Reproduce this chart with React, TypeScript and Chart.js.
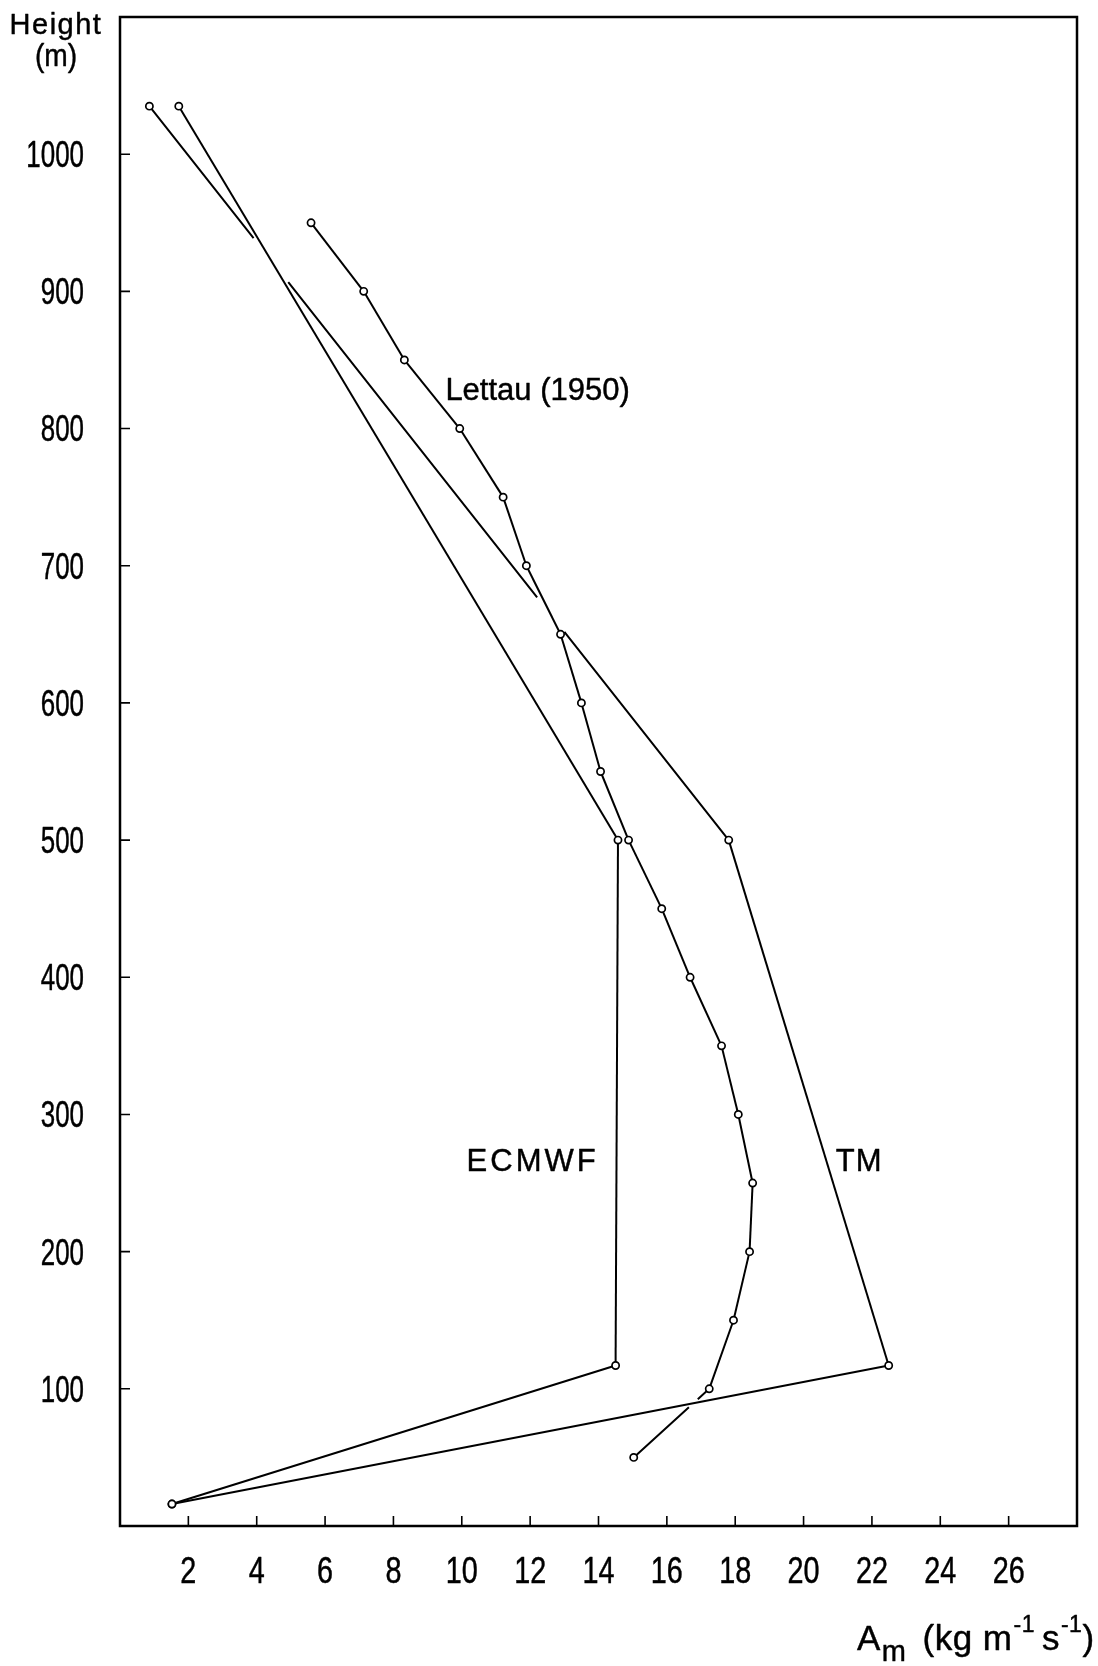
import { useEffect, useRef } from 'react';
import { Chart, registerables } from 'chart.js';

Chart.register(...registerables);

// Lettau (1950) profile: heights (m) and A_m (kg m^-1 s^-1)
const LETTAU_HEIGHTS = [950, 900, 850, 800, 750, 700, 650, 600, 550, 500, 450, 400, 350, 300, 250, 200, 150, 100, 50];
const LETTAU_AM = [5.59, 7.13, 8.32, 9.94, 11.21, 11.89, 12.89, 13.5, 14.06, 14.88, 15.85, 16.68, 17.6, 18.09, 18.51, 18.42, 17.95, 17.24, 15.03];

// Model profiles on their levels
const MODEL_HEIGHTS = [1035, 500, 117, 16];
const TM_AM = [0.86, 17.81, 22.49, 1.52];
const ECMWF_AM = [1.72, 14.57, 14.5, 1.52];

const X_TICKS = [2, 4, 6, 8, 10, 12, 14, 16, 18, 20, 22, 24, 26];
const Y_TICKS = [100, 200, 300, 400, 500, 600, 700, 800, 900, 1000];

const SERIES_NAMES = ['Lettau (1950)', 'TM', 'ECMWF'];

// Curve labels, anchored in data units (left edge, baseline)
const CURVE_LABELS = [
  { text: 'Lettau (1950)', x: 9.52, y: 821, spacing: 0 },
  { text: 'ECMWF', x: 10.14, y: 259, spacing: 3 },
  { text: 'TM', x: 20.94, y: 259, spacing: 1 },
];

const SANS = '"Liberation Sans", Arial, sans-serif';

type Pt = { x: number; y: number };

function crossAt(a: Pt, b: Pt, c: Pt, d: Pt): number | null {
  const rx = b.x - a.x, ry = b.y - a.y;
  const sx = d.x - c.x, sy = d.y - c.y;
  const den = rx * sy - ry * sx;
  if (Math.abs(den) < 1e-9) return null;
  const t = ((c.x - a.x) * sy - (c.y - a.y) * sx) / den;
  const u = ((c.x - a.x) * ry - (c.y - a.y) * rx) / den;
  if (t <= 0.001 || t >= 0.999 || u <= 0.001 || u >= 0.999) return null;
  return t;
}

// Text with an optional horizontal squeeze and a light outline for a heavier print look
function drawText(
  ctx: CanvasRenderingContext2D,
  text: string,
  x: number,
  y: number,
  size: number,
  opts: { sx?: number; align?: 'left' | 'center' | 'right'; spacing?: number } = {}
): number {
  const sx = opts.sx ?? 1;
  ctx.save();
  ctx.font = `${size}px ${SANS}`;
  (ctx as any).letterSpacing = `${opts.spacing ?? 0}px`;
  ctx.textAlign = 'left';
  ctx.textBaseline = 'alphabetic';
  const w = ctx.measureText(text).width * sx;
  const x0 = opts.align === 'center' ? x - w / 2 : opts.align === 'right' ? x - w : x;
  ctx.translate(x0, y);
  ctx.scale(sx, 1);
  ctx.fillStyle = '#000';
  ctx.strokeStyle = '#000';
  ctx.lineWidth = 0.45;
  ctx.lineJoin = 'round';
  ctx.fillText(text, 0, 0);
  ctx.strokeText(text, 0, 0);
  ctx.restore();
  return w;
}

// Draws each series as a polyline that is interrupted where it passes under another one
const brokenLines = {
  id: 'brokenLines',
  beforeDatasetsDraw(chart: any) {
    const ctx: CanvasRenderingContext2D = chart.ctx;
    const yScale = chart.scales.y;
    const polys: Pt[][] = chart.data.datasets.map((_: any, i: number) =>
      chart.getDatasetMeta(i).data.map((p: any) => ({ x: p.x, y: p.y }))
    );
    chart.data.datasets.forEach((ds: any, i: number) => {
      const pts = polys[i];
      const breaks = ds.breaks || [];
      ctx.save();
      ctx.strokeStyle = '#000';
      ctx.lineWidth = 2;
      ctx.lineCap = 'butt';
      for (let s = 0; s < pts.length - 1; s++) {
        const a = pts[s], b = pts[s + 1];
        const len = Math.hypot(b.x - a.x, b.y - a.y);
        const cuts: [number, number][] = [];
        for (const br of breaks) {
          const other = polys[SERIES_NAMES.indexOf(br.over)];
          for (let k = 0; k < other.length - 1; k++) {
            const t = crossAt(a, b, other[k], other[k + 1]);
            if (t == null) continue;
            const h = yScale.getValueForPixel(a.y + t * (b.y - a.y));
            if (br.above != null && h < br.above) continue;
            if (br.below != null && h > br.below) continue;
            cuts.push([t * len - br.half, t * len + br.half]);
          }
        }
        cuts.sort((p, q) => p[0] - q[0]);
        let start = 0;
        const pieces: [number, number][] = [];
        for (const [c0, c1] of cuts) {
          if (c0 > start) pieces.push([start, c0]);
          start = Math.max(start, c1);
        }
        if (start < len) pieces.push([start, len]);
        const ux = (b.x - a.x) / len, uy = (b.y - a.y) / len;
        ctx.beginPath();
        for (const [d0, d1] of pieces) {
          ctx.moveTo(a.x + ux * d0, a.y + uy * d0);
          ctx.lineTo(a.x + ux * d1, a.y + uy * d1);
        }
        ctx.stroke();
      }
      ctx.restore();
    });
  },
};

// Frame, inward tick marks, tick labels and all free text
const decorations = {
  id: 'decorations',
  afterDraw(chart: any) {
    const ctx: CanvasRenderingContext2D = chart.ctx;
    const { left, right, top, bottom } = chart.chartArea;
    const xs = chart.scales.x, ys = chart.scales.y;
    ctx.save();
    ctx.strokeStyle = '#000';
    ctx.lineWidth = 2.5;
    ctx.strokeRect(left, top, right - left, bottom - top);

    ctx.lineWidth = 1.6;
    ctx.beginPath();
    for (const v of Y_TICKS) {
      const py = ys.getPixelForValue(v);
      ctx.moveTo(left, py);
      ctx.lineTo(left + 10, py);
    }
    for (const v of X_TICKS) {
      const px = xs.getPixelForValue(v);
      ctx.moveTo(px, bottom);
      ctx.lineTo(px, bottom - 10);
    }
    ctx.stroke();
    ctx.restore();

    // tick labels
    for (const v of Y_TICKS) {
      drawText(ctx, String(v), left - 36, ys.getPixelForValue(v) + 12.9, 36, { sx: 0.72, align: 'right' });
    }
    for (const v of X_TICKS) {
      drawText(ctx, String(v), xs.getPixelForValue(v), bottom + 57, 36, { sx: 0.8, align: 'center' });
    }

    // curve labels
    for (const l of CURVE_LABELS) {
      drawText(ctx, l.text, xs.getPixelForValue(l.x), ys.getPixelForValue(l.y), 31, { spacing: l.spacing });
    }

    // y-axis title
    drawText(ctx, 'Height', 56, 34, 29, { align: 'center', spacing: 1.5 });
    drawText(ctx, '(m)', 56, 66, 32, { align: 'center', sx: 0.88 });

    // x-axis title: A_m (kg m^-1 s^-1)
    const base = 1650;
    const parts: { t: string; size: number; dy: number; gap: number }[] = [
      { t: 'A', size: 35, dy: 0, gap: 1 },
      { t: 'm', size: 29, dy: 11, gap: 16 },
      { t: '(kg m', size: 35, dy: 0, gap: 1 },
      { t: '-1', size: 23, dy: -18, gap: 7 },
      { t: 's', size: 35, dy: 0, gap: 1 },
      { t: '-1', size: 23, dy: -18, gap: 0 },
      { t: ')', size: 35, dy: 0, gap: 0 },
    ];
    let cx = 857;
    for (const p of parts) {
      cx += drawText(ctx, p.t, cx, base + p.dy, p.size, { spacing: 0.5 }) + p.gap;
    }
  },
};

export default function App() {
  const canvasRef = useRef<HTMLCanvasElement | null>(null);

  useEffect(() => {
    const canvas = canvasRef.current;
    if (!canvas) return;

    const pointStyle = {
      pointRadius: 3.6,
      pointBorderWidth: 1.7,
      pointBackgroundColor: '#fff',
      pointBorderColor: '#000',
      showLine: false,
    };

    const chart = new Chart(canvas, {
      type: 'scatter',
      data: {
        datasets: [
          {
            label: SERIES_NAMES[0],
            data: LETTAU_HEIGHTS.map((h, i) => ({ x: LETTAU_AM[i], y: h })),
            breaks: [{ over: 'TM', half: 6, below: 200 }],
            ...pointStyle,
          } as any,
          {
            label: SERIES_NAMES[1],
            data: MODEL_HEIGHTS.map((h, i) => ({ x: TM_AM[i], y: h })),
            breaks: [
              { over: 'ECMWF', half: 28 },
              { over: 'Lettau (1950)', half: 22, above: 200 },
            ],
            ...pointStyle,
          } as any,
          {
            label: SERIES_NAMES[2],
            data: MODEL_HEIGHTS.map((h, i) => ({ x: ECMWF_AM[i], y: h })),
            breaks: [],
            ...pointStyle,
          } as any,
        ],
      },
      options: {
        animation: false,
        responsive: false,
        devicePixelRatio: 1,
        layout: { padding: { top: 17, right: 21, left: 0, bottom: 0 } },
        plugins: { legend: { display: false }, tooltip: { enabled: false } },
        scales: {
          x: {
            type: 'linear',
            min: 0,
            max: 28,
            afterFit: (s: any) => {
              s.height = 140;
              s.paddingLeft = 0;
              s.paddingRight = 0;
            },
            afterBuildTicks: (s: any) => { s.ticks = X_TICKS.map((v) => ({ value: v })); },
            grid: { display: false },
            border: { display: false },
            ticks: { display: false },
          },
          y: {
            type: 'linear',
            min: 0,
            max: 1100,
            afterFit: (s: any) => {
              s.width = 120;
              s.paddingTop = 0;
              s.paddingBottom = 0;
            },
            afterBuildTicks: (s: any) => { s.ticks = Y_TICKS.map((v) => ({ value: v })); },
            grid: { display: false },
            border: { display: false },
            ticks: { display: false },
          },
        },
      } as any,
      plugins: [brokenLines, decorations],
    });

    return () => chart.destroy();
  }, []);

  return (
    <div style={{ position: 'absolute', left: 0, top: 0, width: 1098, height: 1666, background: '#fff' }}>
      <canvas ref={canvasRef} width={1098} height={1666} />
    </div>
  );
}
